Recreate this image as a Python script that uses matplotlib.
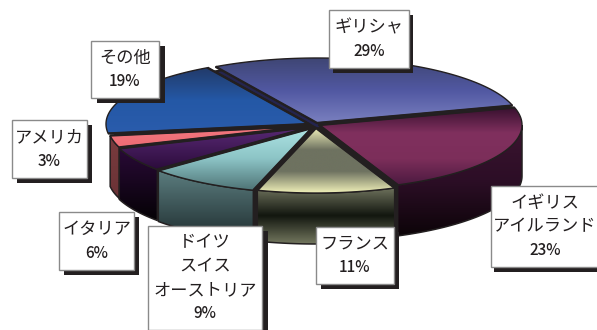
import numpy as np
import matplotlib
matplotlib.use("Agg")
import matplotlib.pyplot as plt
from matplotlib.colors import LinearSegmentedColormap
from matplotlib.patches import Polygon, Rectangle

plt.rcParams['font.family'] = ['Noto Sans CJK JP', 'DejaVu Sans']

# --- Data ---
labels = ["ギリシャ", "イギリス\nアイルランド", "フランス", "ドイツ\nスイス\nオーストリア", "イタリア", "アメリカ", "その他"]
shares = [29, 23, 11, 9, 6, 3, 19]

# --- Pie geometry (pixel coordinates) ---
cx, cy = 315, 125
rx, ry = 203, 65
depth = 51
start_angle = 120
offsets = [(2, -2), (4, 0), (1, 3), (-3, 3), (-4, 2), (-4, 1), (-6, -1)]

top_colors = [
    ["#3f4674", "#5158a2", "#7a80bf"],
    ["#36102e", "#80305e", "#7c2e5a", "#4c1a40"],
    ["#eeeeb8", "#6e7260", "#6e7260", "#f0f0b8"],
    ["#aee4e4", "#8cc4c6", "#4f7476"],
    ["#5a2a76", "#2c0c3c"],
    ["#f27880", "#ee6c74"],
    ["#223a68", "#2458a6", "#2a5cac"],
]
side_colors = [
    None,
    ["#3c1430", "#2c0e26", "#0c0408"],
    ["#70745e", "#12160f", "#74785f"],
    ["#5c7e80", "#1e2c2e"],
    ["#2a0a38", "#050205"],
    ["#7a3c3e", "#6a3236"],
    None,
]

# --- Label boxes: x0, y0, x1, y1 and shadow offset ---
boxes = [
    (329, 10, 409, 68),
    (491, 186, 599, 267),
    (316, 227, 394, 284),
    (148, 226, 262, 330),
    (59, 212, 134, 270),
    (12, 120, 87, 178),
    (91, 41, 159, 98),
]
shadows = [(4, 5), (3, 5), (5, 5), (6, 5), (5, 5), (5, 5), (6, 5)]
line_pitch = 24

LINE = "#231f20"


def gradient(ax, pts, colors, zorder):
    # vertical gradient clipped to the polygon
    poly = Polygon(pts, closed=True, facecolor="none", edgecolor="none", transform=ax.transData)
    ax.add_patch(poly)
    cmap = LinearSegmentedColormap.from_list("g", colors)
    x0, y0 = pts.min(axis=0)
    x1, y1 = pts.max(axis=0)
    im = ax.imshow(np.linspace(0, 1, 256)[:, None], cmap=cmap, extent=(x0, x1, y1, y0),
                   aspect="auto", origin="upper", zorder=zorder, interpolation="bilinear")
    im.set_clip_path(poly)


fig = plt.figure(figsize=(5.97, 3.30), dpi=100)
ax = fig.add_axes([0, 0, 1, 1])

# slice angles from the shares, running clockwise
ends = start_angle - np.cumsum(shares) * 3.6
starts = np.r_[start_angle, ends[:-1]]

# dark body under the slices closes the gaps between them
t = np.radians(np.linspace(0, 360, 180))
bx = cx + (rx - 2) * np.cos(t)
by = cy - (ry - 2) * np.sin(t) + depth * (np.sin(t) < 0)
ax.add_patch(Polygon(np.c_[bx, by], closed=True, facecolor=LINE, edgecolor="none", zorder=1.5))

# outer walls first, then the top faces over them
wall_order = [1, 5, 4, 3, 2]
for z, i in enumerate(wall_order):
    a0, a1 = starts[i], ends[i]
    dx, dy = offsets[i]
    lo, hi = max(a1, -180), min(a0, 0)
    t = np.radians(np.linspace(hi, lo, 60))
    x = cx + dx + rx * np.cos(t)
    y = cy + dy - ry * np.sin(t)
    pts = np.r_[np.c_[x, y], np.c_[x, y + depth][::-1]]
    gradient(ax, pts, side_colors[i], 2 + z * 0.1)
    ax.add_patch(Polygon(pts, closed=True, fill=False, edgecolor=LINE, lw=1.1, zorder=2.05 + z * 0.1))

for i in range(len(shares)):
    dx, dy = offsets[i]
    t = np.radians(np.linspace(starts[i], ends[i], 80))
    x = np.r_[cx + dx, cx + dx + rx * np.cos(t)]
    y = np.r_[cy + dy, cy + dy - ry * np.sin(t)]
    pts = np.c_[x, y]
    if i == 0:
        # lifted slice shows a dark edge along its cut faces
        ax.add_patch(Polygon(pts + [0, 5], closed=True, facecolor="#24244e", edgecolor=LINE, lw=1.0, zorder=3))
    gradient(ax, pts, top_colors[i], 4)
    ax.add_patch(Polygon(pts, closed=True, fill=False, edgecolor=LINE, lw=1.0, zorder=4.5))
    ax.plot([x[1], x[0], x[-1]], [y[1], y[0], y[-1]], color=LINE, lw=1.7, zorder=4.6, solid_capstyle="butt")

# label boxes with hard drop shadow
for name, share, (x0, y0, x1, y1), (sx, sy) in zip(labels, shares, boxes, shadows):
    ax.add_patch(Rectangle((x0 + sx, y0 + sy), x1 - x0, y1 - y0, facecolor=LINE, edgecolor="none", zorder=6))
    ax.add_patch(Rectangle((x0, y0), x1 - x0, y1 - y0, facecolor="white", edgecolor="#8a8a8a", lw=1.0, zorder=7))
    lines = name.split("\n")
    n = len(lines) + 1
    xm, ym = (x0 + x1) / 2, (y0 + y1) / 2
    for k, s in enumerate(lines):
        ax.text(xm, ym + (k - (n - 1) / 2) * line_pitch, s, ha="center", va="center",
                fontsize=12.4, color=LINE, zorder=8)
    ax.text(xm, ym + (n - 1) / 2 * line_pitch, f"{share}%", ha="center", va="center",
            fontsize=11, fontweight="medium", color=LINE, zorder=8)

ax.set_xlim(0, 597)
ax.set_ylim(330, 0)
ax.axis("off")
fig.savefig("out.png", dpi=100, facecolor="white")
